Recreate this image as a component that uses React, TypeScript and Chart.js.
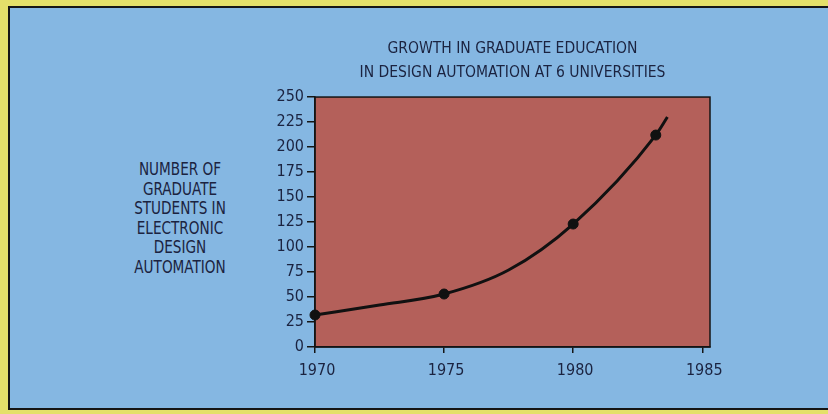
import React, { useEffect, useRef } from "react";
import { Chart, registerables } from "chart.js";

Chart.register(...registerables);

const titleLines = ["GROWTH IN GRADUATE EDUCATION", "IN DESIGN AUTOMATION AT 6 UNIVERSITIES"];
const yLabelLines = ["NUMBER OF", "GRADUATE", "STUDENTS IN", "ELECTRONIC", "DESIGN", "AUTOMATION"];

// smooth growth curve
const curveYears = [1970, 1972.5, 1975, 1977.5, 1980, 1983.2, 1983.65];
const curveValues = [32, 42, 53, 77, 123, 212, 230];

// the marked survey points
const markerYears = [1970, 1975, 1980, 1983.2];
const markerValues = [32, 53, 123, 212];

const xTicks = [1970, 1975, 1980, 1985];
const yMin = 0;
const yMax = 250;
const yStep = 25;

const FONT = '"Liberation Sans Narrow", "DejaVu Sans Condensed", "Roboto Condensed", sans-serif';
const INK = "#1b2340";
const YELLOW = "#e4e06a";
const BLUE = "#85b7e2";
const PLOT = "#b4605a";

const plotBg = {
  id: "plotBg",
  beforeDraw(chart: any) {
    const { ctx, chartArea: a } = chart;
    ctx.save();
    ctx.fillStyle = PLOT;
    ctx.fillRect(a.left, a.top, a.right - a.left, a.bottom - a.top);
    ctx.restore();
  },
  beforeDatasetsDraw(chart: any) {
    const { ctx, chartArea: a } = chart;
    ctx.save();
    ctx.strokeStyle = "#151515";
    ctx.lineWidth = 1.5;
    ctx.strokeRect(a.left, a.top, a.right - a.left, a.bottom - a.top);
    ctx.restore();
  },
};

export default function App() {
  const ref = useRef<HTMLCanvasElement>(null);

  useEffect(() => {
    if (!ref.current) return;
    const chart = new Chart(ref.current, {
      type: "line",
      data: {
        datasets: [
          {
            data: curveYears.map((x, i) => ({ x, y: curveValues[i] })),
            borderColor: "#111",
            borderWidth: 3,
            pointRadius: 0,
            cubicInterpolationMode: "monotone",
            clip: false as any,
          },
          {
            type: "scatter" as any,
            data: markerYears.map((x, i) => ({ x, y: markerValues[i] })),
            backgroundColor: "#111",
            borderColor: "#111",
            pointRadius: 5,
            showLine: false,
            clip: false as any,
          },
        ],
      },
      plugins: [plotBg],
      options: {
        animation: false,
        responsive: false,
        layout: { padding: { left: 0, right: 118, top: 0, bottom: 0 } },
        plugins: {
          legend: { display: false },
          tooltip: { enabled: false },
          title: {
            display: true,
            text: titleLines,
            color: INK,
            fullSize: false,
            font: { family: FONT, size: 15.5, weight: "normal", lineHeight: 1.55 },
            padding: { top: 37, bottom: 12 },
          },
        },
        scales: {
          x: {
            type: "linear",
            min: 1970,
            max: 1985.3,
            afterBuildTicks: (s: any) => {
              s.ticks = xTicks.map((v) => ({ value: v }));
            },
            afterFit: (s: any) => {
              s.height = 67;
            },
            border: { display: true, color: "#151515", width: 1.5 },
            grid: { drawOnChartArea: false, drawTicks: true, tickLength: 6, color: "#151515", lineWidth: 1.5 },
            ticks: {
              color: INK,
              padding: 8,
              labelOffset: 2,
              maxRotation: 0,
              font: { family: FONT, size: 16 },
              callback: (v: any) => String(v),
            },
          },
          y: {
            min: yMin,
            max: yMax,
            afterFit: (s: any) => {
              s.width = 315;
            },
            border: { display: true, color: "#151515", width: 1.5 },
            grid: { drawOnChartArea: false, drawTicks: true, tickLength: 8, color: "#151515", lineWidth: 1.5 },
            ticks: {
              stepSize: yStep,
              color: INK,
              padding: 3,
              font: { family: FONT, size: 16 },
            },
          },
        },
      },
    });
    return () => chart.destroy();
  }, []);

  return (
    <div style={{ position: "fixed", left: 0, top: 0, width: 828, height: 414, background: YELLOW, overflow: "hidden" }}>
      <div
        style={{
          position: "absolute",
          left: 8,
          top: 6,
          width: 830,
          height: 400,
          background: BLUE,
          border: "2px solid #151515",
        }}
      />
      <div
        style={{
          position: "absolute",
          left: 100,
          top: 160,
          width: 160,
          textAlign: "center",
          fontFamily: FONT,
          fontSize: 17,
          lineHeight: "19.5px",
          color: INK,
          transform: "scaleX(0.89)",
          transformOrigin: "center",
        }}
      >
        {yLabelLines.map((l, i) => (
          <div key={i}>{l}</div>
        ))}
      </div>
      <canvas ref={ref} width={828} height={414} style={{ position: "absolute", left: 0, top: 0 }} />
    </div>
  );
}
